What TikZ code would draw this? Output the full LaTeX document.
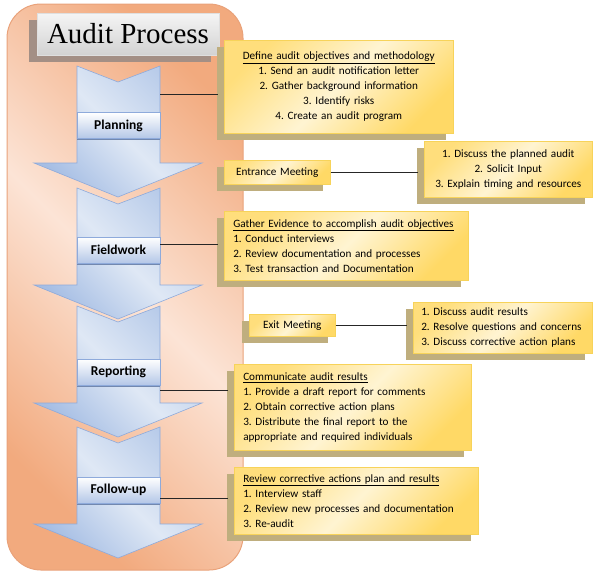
\documentclass[tikz,border=0pt]{standalone}
\usepackage{fontspec}
\setmainfont{Carlito}
\newfontfamily\titlefont{Liberation Serif}
\usetikzlibrary{shadows}
\definecolor{peachlight}{HTML}{FCE4D6}
\definecolor{peachdark}{HTML}{F2AA7E}
\definecolor{peachline}{HTML}{E9A27A}
\definecolor{chevronlight}{HTML}{DFE8F5}
\definecolor{chevrondark}{HTML}{A6BEE4}
\definecolor{chevronline}{HTML}{8EAADB}
\definecolor{stageblue}{HTML}{B4C7E7}
\definecolor{notecream}{HTML}{FFF4D2}
\definecolor{notegold}{HTML}{FFD966}
\definecolor{noteline}{HTML}{F7D35A}
\definecolor{notetan}{HTML}{BFAE7E}
\definecolor{titleshadow}{HTML}{A38F85}
\tikzset{
  panel/.style   = {draw=peachline, line width=1pt, rounded corners=34pt,
                    left color=peachdark, right color=peachdark, middle color=peachlight,
                    shading angle=-45},
  chevron/.style = {draw=chevronline, line width=0.6pt,
                    left color=chevrondark!70!chevronlight, right color=chevrondark,
                    middle color=chevronlight, shading angle=-45},
  heading/.style = {draw=gray!25, top color=gray!8, bottom color=gray!35,
                    minimum width=182pt, minimum height=42pt, inner sep=0pt,
                    font=\titlefont\fontsize{29}{32}\selectfont,
                    drop shadow={shadow xshift=-8pt, shadow yshift=-7pt, fill=titleshadow, opacity=1}},
  stage/.style   = {draw=chevronline, top color=white, bottom color=stageblue,
                    minimum width=83pt, minimum height=26pt, inner sep=0pt,
                    font=\fontsize{13.5}{15}\selectfont\bfseries,
                    drop shadow={shadow xshift=0pt, shadow yshift=-1.5pt, fill=chevronline!80!black, opacity=1}},
  note/.style    = {draw=noteline, line width=0.5pt, anchor=north west,
                    left color=notegold!80!notecream, right color=notegold,
                    middle color=notecream, shading angle=45,
                    inner xsep=9pt, inner ysep=2pt, align=left,
                    font=\fontsize{11.2}{15}\selectfont\frenchspacing,
                    drop shadow={shadow xshift=-7pt, shadow yshift=-7pt, fill=notetan, opacity=1}},
  link/.style    = {draw=black!85, line width=0.7pt, shorten >=6pt}
}
\begin{document}
\begin{tikzpicture}[x=1pt, y=-1pt]
\useasboundingbox (0,0) rectangle (593,576);
\path[panel] (7,4) rectangle (243,570);

% chevrons down the panel
\foreach \top in {66, 188, 306, 427}
  \path[chevron] (77,\top) -- (118,\top+16) -- (160,\top) -- (160,\top+97)
     -- (202,\top+97) -- (118,\top+131) -- (34,\top+97) -- (77,\top+97) -- cycle;

\node[heading] at (128,34) (title) {Audit Process};

\node[stage] at (118.5,125.5) (planning)  {Planning};
\node[stage] at (118.5,250)   (fieldwork) {Fieldwork};
\node[stage] at (118.5,372)   (reporting) {Reporting};
\node[stage] at (118.5,490)   (followup)  {Follow-up};

\coordinate (plan-c)   at (160,94);
\coordinate (field-c)  at (160,244);
\coordinate (report-c) at (160,390);
\coordinate (follow-c) at (160,498);

\node[note, text width=211pt, minimum height=93pt, align=center] at (224,40) (planbox)
  {\underline{Define audit objectives and methodology}\\
   1. Send an audit notification letter\\
   2. Gather background information\\
   3. Identify risks\\
   4. Create an audit program};
\node[note, text width=88pt, minimum height=24pt, align=center] at (224,160) (entrance)
  {Entrance Meeting};
\node[note, text width=150pt, minimum height=56pt, align=center] at (424,141) (entrancelist)
  {1. Discuss the planned audit\\
   2. Solicit Input\\
   3. Explain timing and resources};
\node[note, text width=226pt, minimum height=69pt] at (224,211) (fieldbox)
  {\underline{Gather Evidence to accomplish audit objectives}\\
   1. Conduct interviews\\
   2. Review documentation and processes\\
   3. Test transaction and Documentation};
\node[note, text width=68pt, minimum height=22pt, align=center] at (249,314) (exit)
  {Exit Meeting};
\node[note, text width=163pt, inner xsep=8pt, minimum height=51pt] at (413,302) (exitlist)
  {1. Discuss audit results\\
   2. Resolve questions and concerns\\
   3. Discuss corrective action plans};
\node[note, text width=219pt, minimum height=86pt] at (234,364) (reportbox)
  {\underline{Communicate audit results}\\
   1. Provide a draft report for comments\\
   2. Obtain corrective action plans\\
   3. Distribute the final report to the\\
   appropriate and required individuals};
\node[note, text width=226pt, minimum height=67pt] at (234,467) (followbox)
  {\underline{Review corrective actions plan and results}\\
   1. Interview staff\\
   2. Review new processes and documentation\\
   3. Re-audit};

\draw[link] (plan-c) -- (plan-c -| planbox.west);
\draw[link] (entrance.east) -- (entrance.east -| entrancelist.west);
\draw[link] (field-c) -- (field-c -| fieldbox.west);
\draw[link] (exit.east) -- (exit.east -| exitlist.west);
\draw[link] (report-c) -- (report-c -| reportbox.west);
\draw[link] (follow-c) -- (follow-c -| followbox.west);
\end{tikzpicture}
\end{document}
